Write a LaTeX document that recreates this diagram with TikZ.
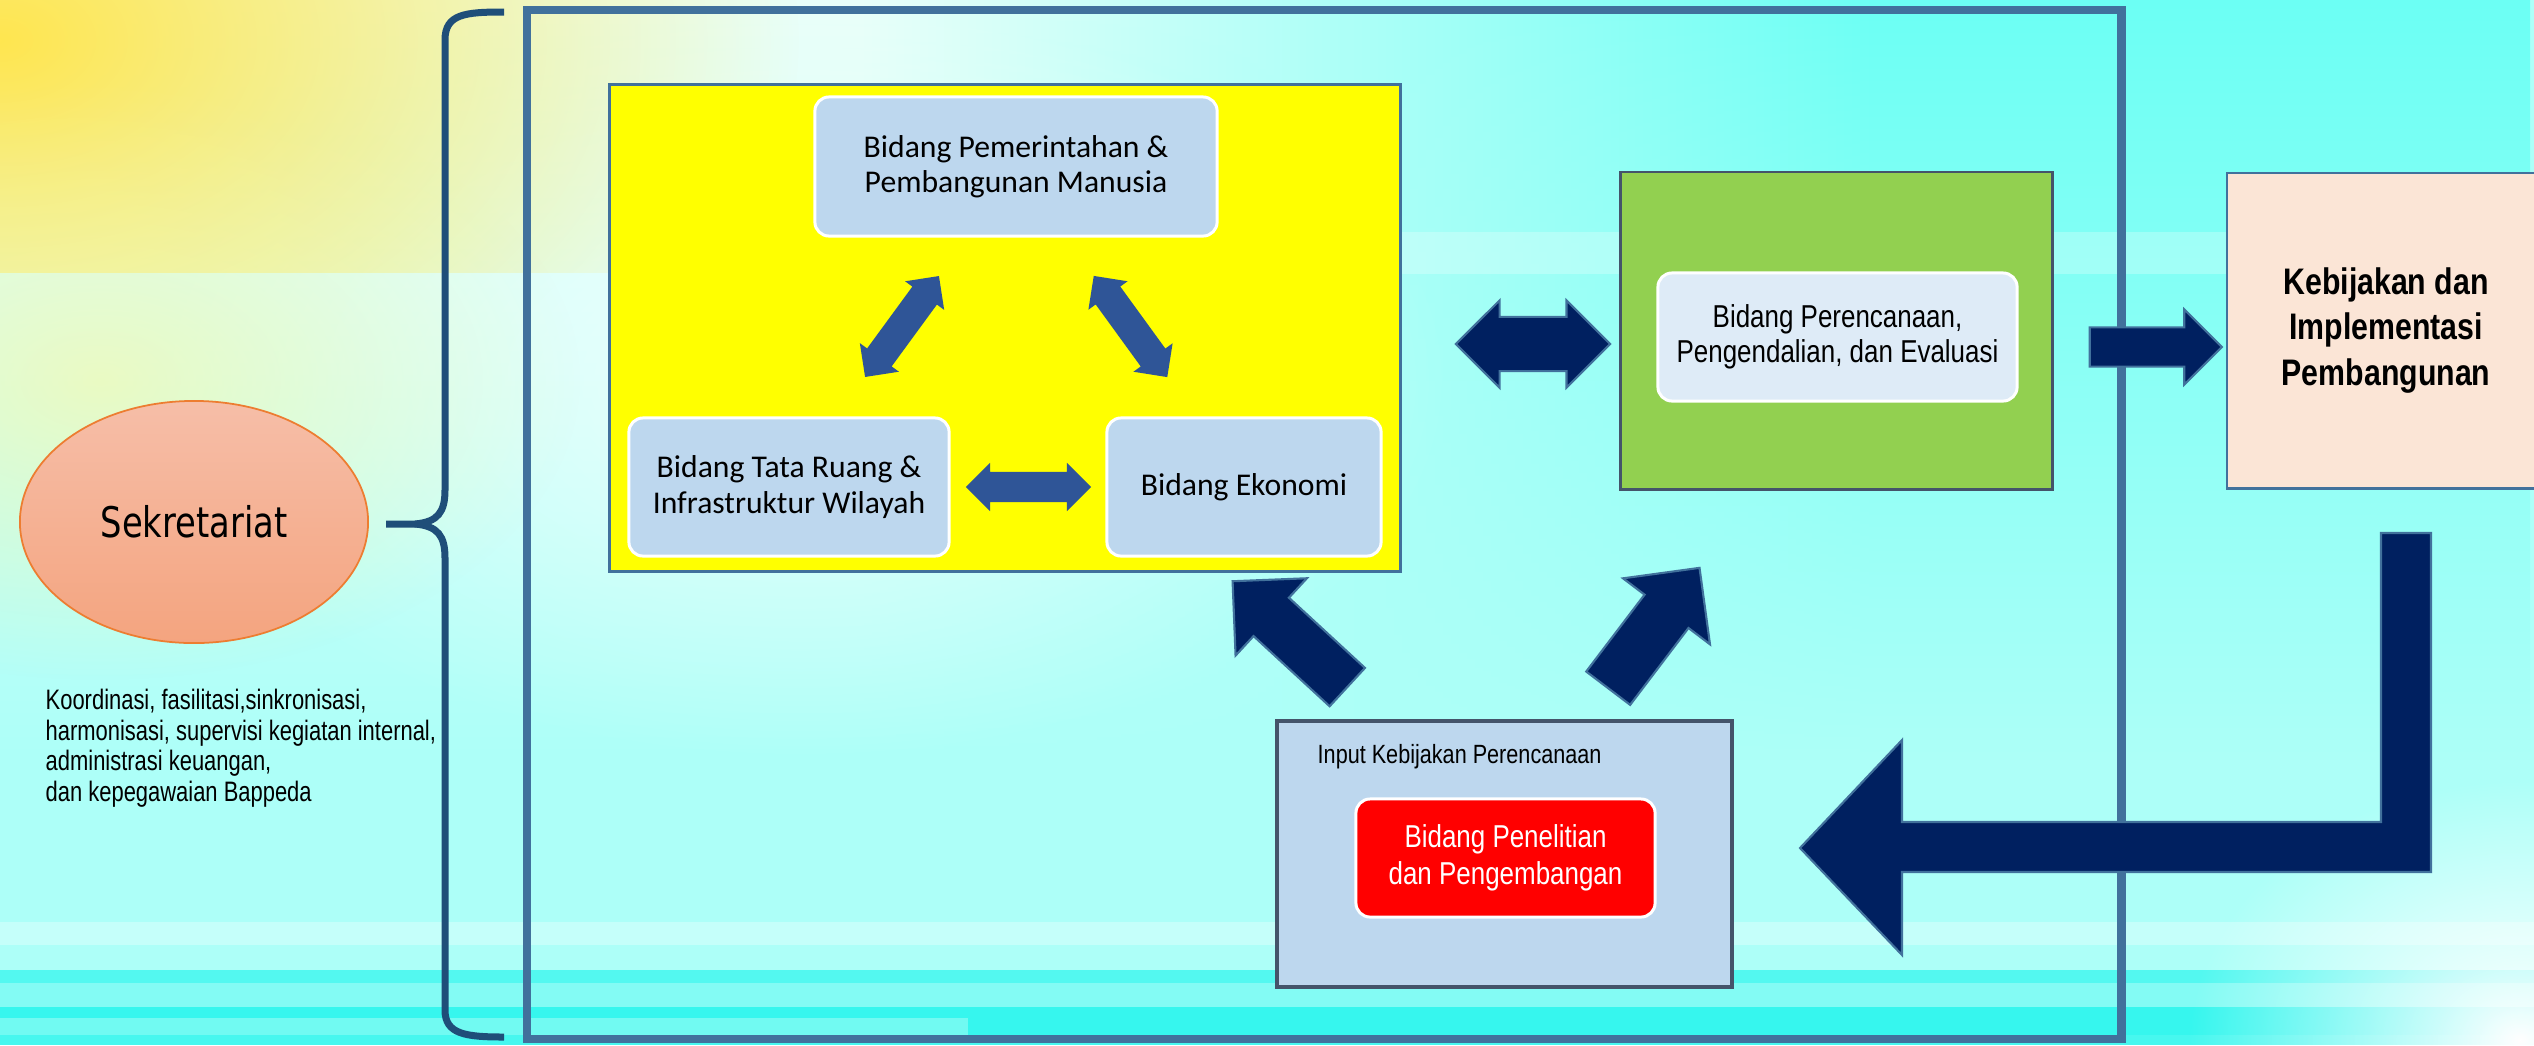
\documentclass[tikz,border=0pt]{standalone}
\usepackage{fontspec}
\setmainfont{Liberation Sans}
\newfontfamily\calibrifont{Carlito}
\newfontfamily\narrowfont[FakeStretch=0.82]{Liberation Sans}
\newfontfamily\sekfont[FakeStretch=0.8]{DejaVu Sans}
\newfontfamily\descfont[FakeStretch=0.78]{Liberation Sans}
\usetikzlibrary{shapes.geometric,shapes.arrows,fadings}

\definecolor{boxblue}{HTML}{BDD7EE}
\definecolor{paleblue}{HTML}{DEEBF7}
\definecolor{framebl}{HTML}{41719C}
\definecolor{bracebl}{HTML}{1F4E79}
\definecolor{navy}{HTML}{002060}
\definecolor{midblue}{HTML}{2F5597}
\definecolor{leaf}{HTML}{92D050}
\definecolor{peach}{HTML}{FBE5D6}
\definecolor{slate}{HTML}{44546A}
\definecolor{lemon}{RGB}{255,255,0}
\definecolor{salmontop}{HTML}{F6BEA8}
\definecolor{salmonbot}{HTML}{F4A47F}
\definecolor{rim}{HTML}{ED7D31}
\definecolor{bgbase}{HTML}{ADFFF8}
\definecolor{bgyellow}{HTML}{FFF7A0}
\definecolor{bgpale}{HTML}{EAFFFA}
\definecolor{bgaqua}{HTML}{6CFFF4}
\definecolor{sunny}{HTML}{FFE650}
\definecolor{stripe}{HTML}{36F6EE}

\pgfdeclarehorizontalshading{bgtop}{100bp}{color(0bp)=(bgyellow); color(22bp)=(bgpale); color(42bp)=(bgpale); color(62bp)=(bgaqua); color(100bp)=(bgaqua)}
\tikzfading[name=fadedown, top color=transparent!0, bottom color=transparent!100]
\tikzfading[name=glowfade, inner color=transparent!0, outer color=transparent!100]

\begin{document}
\begin{tikzpicture}[x=0.01cm, y=-0.01cm,
        bidang/.style={draw=white, line width=0.85pt, rounded corners=4pt, fill=boxblue, inner sep=0pt, align=center, font=\calibrifont\fontsize{9}{10}\selectfont},
        panel/.style={draw=framebl, line width=0.8pt, inner sep=0pt},
        dblarrow/.style={double arrow, fill=midblue, inner xsep=0pt, inner ysep=0.145cm, minimum height=1.25cm, minimum width=0.47cm, double arrow head extend=0.09cm},
        bigarrow/.style={fill=navy, draw=framebl, line width=0.6pt, inner xsep=0pt},
        brace/.style={draw=bracebl, line width=0.07cm}]
        \useasboundingbox (0,0) rectangle (2534,1045);

        \fill[bgbase] (0,0) rectangle (2534,1045);
        \shade[shading=bgtop, path fading=fadedown] (0,0) rectangle (2534,760);
        \fill[white, opacity=0.6, path fading=glowfade] (800,380) ellipse (650 and 380);
        \begin{scope}
        \clip (0,0) rectangle (900,272);
        \fill[sunny, path fading=glowfade] (0,40) ellipse (800 and 520);
        \end{scope}
        \fill[bgyellow, opacity=0.6, path fading=glowfade] (100,380) ellipse (480 and 300);
        \fill[white, opacity=0.25] (850,232) rectangle (2534,274);
        \fill[white, opacity=0.3] (0,922) rectangle (2534,945);
        \fill[stripe, opacity=0.75] (0,970) rectangle (2534,983);
        \fill[stripe, opacity=0.35] (0,983) rectangle (2534,1007);
        \fill[stripe] (0,1007) rectangle (2534,1018);
        \fill[stripe, opacity=0.5] (0,1018) rectangle (968,1035);
        \fill[stripe] (968,1018) rectangle (2534,1035);
        \fill[stripe, opacity=0.85] (0,1035) rectangle (2534,1045);
        \fill[white, path fading=glowfade] (2520,1040) ellipse (330 and 260);

        \node[ellipse, draw=rim, line width=0.5pt, top color=salmontop, bottom color=salmonbot, minimum width=3.48cm, minimum height=2.42cm, font=\sekfont\fontsize{12}{14}\selectfont] at (194,522) (sek) {Sekretariat};
        \node[anchor=north west, inner sep=0pt, align=left, font=\descfont\fontsize{8}{8.8}\selectfont] at (45,688) (tugas) {Koordinasi, fasilitasi,sinkronisasi,\\harmonisasi, supervisi kegiatan internal,\\administrasi keuangan,\\dan kepegawaian Bappeda};

        \draw[brace] (504,12) .. controls (465,12) and (445,14) .. (445,40) -- (445,490) .. controls (445,512) and (438,522) .. (415,524) -- (386,524);
        \draw[brace] (415,524) .. controls (438,526) and (445,536) .. (445,558) -- (445,1010) .. controls (445,1034) and (465,1037) .. (504,1037);

        \node[draw=framebl, line width=0.08cm, minimum width=15.94cm, minimum height=10.29cm, inner sep=0pt] at (1324,524.5) (frame) {};

        \node[panel, fill=lemon, minimum width=7.90cm, minimum height=4.86cm] at (1005,328) (kuning) {};
        \node[bidang, minimum width=4.02cm, minimum height=1.39cm] at (1016,166.5) (pem) {Bidang Pemerintahan \&\\Pembangunan Manusia};
        \node[bidang, minimum width=3.20cm, minimum height=1.38cm] at (789,487) (tata) {Bidang Tata Ruang \&\\Infrastruktur Wilayah};
        \node[bidang, minimum width=2.74cm, minimum height=1.38cm] at (1244,487) (eko) {Bidang Ekonomi};

        \node[dblarrow, rotate=53.8] at (902,326.5) (pem-tata) {};
        \node[dblarrow, rotate=-54] at (1130.5,326.5) (pem-eko) {};
        \node[dblarrow] at (1028.5,487) (tata-eko) {};

        \node[panel, draw=slate, fill=leaf, minimum width=4.31cm, minimum height=3.17cm] at (1836.5,330.5) (hijau) {};
        \node[bidang, fill=paleblue, minimum width=3.59cm, minimum height=1.28cm, font=\narrowfont\fontsize{9}{10}\selectfont] at (1837.5,337) (renc) {Bidang Perencanaan,\\Pengendalian, dan Evaluasi};

        \node[panel, fill=peach, minimum width=3.18cm, minimum height=3.15cm, align=center, font=\narrowfont\bfseries\fontsize{10.5}{13}\selectfont] at (2386,330.5) (kebijakan) {Kebijakan dan\\Implementasi\\Pembangunan};

        \node[panel, draw=slate, line width=1pt, fill=boxblue, minimum width=4.55cm, minimum height=2.66cm] at (1504.5,854) (input) {};
        \node[anchor=west, inner sep=0pt, font=\narrowfont\fontsize{7.5}{9}\selectfont] at (1317,757) (inputlbl) {Input Kebijakan Perencanaan};
        \node[bidang, fill=red, text=white, minimum width=2.99cm, minimum height=1.18cm, font=\narrowfont\fontsize{9}{10.5}\selectfont] at (1505.5,858) (litbang) {Bidang Penelitian\\dan Pengembangan};

        \node[bigarrow, double arrow, inner ysep=0.26cm, minimum height=1.54cm, minimum width=0.85cm, double arrow head extend=0.165cm] at (1533,344) (kuning-hijau) {};
        \node[bigarrow, single arrow, inner ysep=0.185cm, minimum height=1.32cm, minimum width=0.73cm, single arrow head extend=0.18cm] at (2146,347) (hijau-kebijakan) {};
        \node[bigarrow, single arrow, rotate=137.3, inner ysep=0.25cm, minimum height=1.56cm, minimum width=1.03cm, single arrow head extend=0.265cm] at (1299.5,643) (input-kuning) {};
        \node[bigarrow, single arrow, rotate=52.8, inner ysep=0.265cm, minimum height=1.51cm, minimum width=1.07cm, single arrow head extend=0.27cm] at (1645.5,639) (input-hijau) {};
        \draw[bigarrow] (2381,533) -- (2431,533) -- (2431,872) -- (1902,872) -- (1902,955) -- (1800,848) -- (1902,740) -- (1902,822) -- (2381,822) -- cycle;
\end{tikzpicture}
\end{document}
